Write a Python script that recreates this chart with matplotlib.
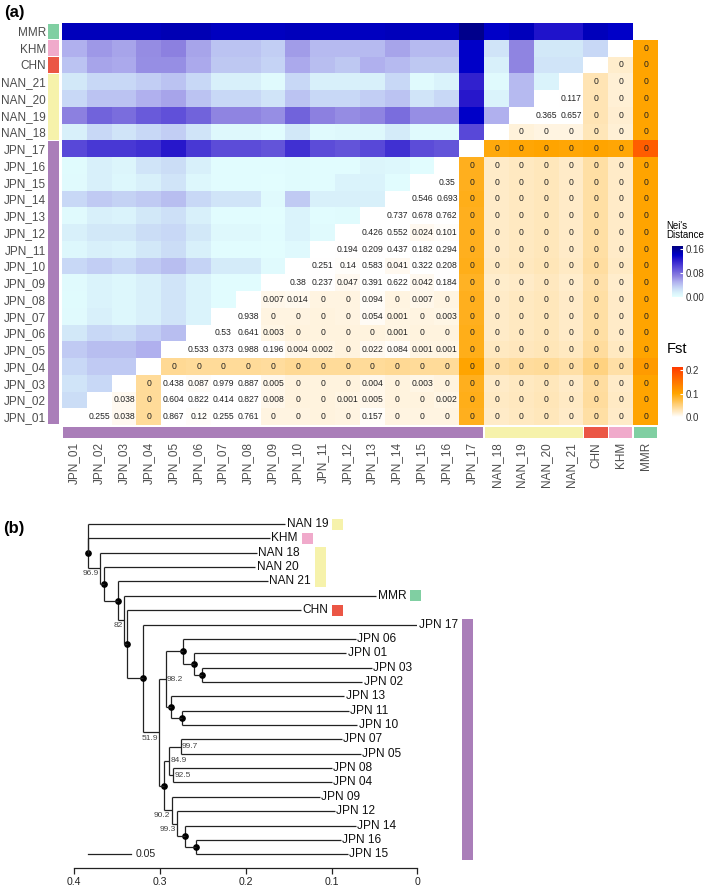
import numpy as np
import matplotlib
matplotlib.use("Agg")
import matplotlib.pyplot as plt
from matplotlib.colors import LinearSegmentedColormap, Normalize
from matplotlib.patches import Rectangle
from matplotlib.cm import ScalarMappable

plt.rcParams['font.family'] = ['Liberation Sans', 'DejaVu Sans']

# ---------------- data: panel (a) ----------------
pops = ['JPN_01', 'JPN_02', 'JPN_03', 'JPN_04', 'JPN_05', 'JPN_06', 'JPN_07', 'JPN_08',
        'JPN_09', 'JPN_10', 'JPN_11', 'JPN_12', 'JPN_13', 'JPN_14', 'JPN_15', 'JPN_16',
        'JPN_17', 'NAN_18', 'NAN_19', 'NAN_20', 'NAN_21', 'CHN', 'KHM', 'MMR']

group_names = ['JPN', 'NAN', 'CHN', 'KHM', 'MMR']
group_sizes = [17, 4, 1, 1, 1]
group_colors = ['#AA7EB9', '#F6F2AB', '#EB5645', '#F0AACB', '#80CFA2']

# Nei's distance, row k holds columns 0..k-1
nei_rows = [
    [],
    [0.027],
    [0.022, 0.030],
    [0.030, 0.037, 0.037],
    [0.037, 0.043, 0.043, 0.050],
    [0.020, 0.030, 0.027, 0.035, 0.043],
    [0.005, 0.015, 0.008, 0.015, 0.022, 0.012],
    [0.004, 0.012, 0.008, 0.015, 0.022, 0.012, 0.003],
    [0.005, 0.012, 0.008, 0.015, 0.022, 0.012, 0.003, 0.003],
    [0.030, 0.035, 0.030, 0.037, 0.043, 0.032, 0.018, 0.018, 0.005],
    [0.008, 0.015, 0.012, 0.020, 0.027, 0.015, 0.003, 0.003, 0.002, 0.006],
    [0.015, 0.020, 0.020, 0.027, 0.030, 0.020, 0.007, 0.007, 0.003, 0.012, 0.005],
    [0.005, 0.015, 0.012, 0.020, 0.025, 0.015, 0.003, 0.003, 0.002, 0.012, 0.003, 0.004],
    [0.030, 0.037, 0.033, 0.037, 0.043, 0.030, 0.022, 0.022, 0.005, 0.037, 0.015, 0.015, 0.015],
    [0.005, 0.015, 0.008, 0.015, 0.022, 0.008, 0.003, 0.003, 0.002, 0.004, 0.003, 0.012, 0.012, 0.003],
    [0.004, 0.015, 0.010, 0.022, 0.027, 0.015, 0.003, 0.003, 0.003, 0.004, 0.003, 0.003, 0.010, 0.008, 0.003],
    [0.100, 0.108, 0.108, 0.112, 0.125, 0.108, 0.097, 0.097, 0.093, 0.112, 0.097, 0.093, 0.100, 0.112,
     0.097, 0.093],
    [0.015, 0.030, 0.022, 0.030, 0.035, 0.022, 0.007, 0.007, 0.003, 0.020, 0.005, 0.007, 0.007, 0.018,
     0.005, 0.005, 0.100],
    [0.070, 0.085, 0.080, 0.090, 0.095, 0.085, 0.068, 0.068, 0.064, 0.085, 0.070, 0.065, 0.068, 0.080,
     0.064, 0.064, 0.140, 0.050],
    [0.030, 0.040, 0.040, 0.050, 0.055, 0.040, 0.030, 0.030, 0.022, 0.040, 0.030, 0.030, 0.035, 0.040,
     0.022, 0.030, 0.125, 0.012, 0.045],
    [0.020, 0.030, 0.030, 0.035, 0.040, 0.030, 0.015, 0.015, 0.005, 0.030, 0.015, 0.015, 0.015, 0.030,
     0.005, 0.012, 0.120, 0.005, 0.045, 0.012],
    [0.040, 0.055, 0.053, 0.064, 0.064, 0.053, 0.038, 0.038, 0.032, 0.053, 0.043, 0.038, 0.050, 0.045,
     0.038, 0.038, 0.140, 0.015, 0.068, 0.022, 0.022],
    [0.050, 0.060, 0.055, 0.065, 0.070, 0.055, 0.040, 0.040, 0.035, 0.058, 0.045, 0.045, 0.045, 0.055,
     0.045, 0.045, 0.140, 0.022, 0.068, 0.020, 0.020, 0.030],
    [0.145, 0.145, 0.145, 0.145, 0.148, 0.148, 0.143, 0.143, 0.143, 0.145, 0.143, 0.143, 0.143, 0.145,
     0.143, 0.143, 0.165, 0.140, 0.145, 0.128, 0.128, 0.145, 0.140],
]

# Fst p-values shown as text, row k holds columns k+1..23
p_rows = [
    "0.255 0.038 0 0.867 0.12 0.255 0.761 0 0 0 0 0.157 0 0 0 0 0 0 0 0 0 0 0".split(),
    "0.038 0 0.604 0.822 0.414 0.827 0.008 0 0 0.001 0.005 0 0 0.002 0 0 0 0 0 0 0 0".split(),
    "0 0.438 0.087 0.979 0.887 0.005 0 0 0 0.004 0 0.003 0 0 0 0 0 0 0 0 0".split(),
    "0 0 0 0 0 0 0 0 0 0 0 0 0 0 0 0 0 0 0 0".split(),
    "0.533 0.373 0.988 0.196 0.004 0.002 0 0.022 0.084 0.001 0.001 0 0 0 0 0 0 0 0".split(),
    "0.53 0.641 0.003 0 0 0 0 0.001 0 0 0 0 0 0 0 0 0 0".split(),
    "0.938 0 0 0 0 0.054 0.001 0 0.003 0 0 0 0 0 0 0 0".split(),
    "0.007 0.014 0 0 0.094 0 0.007 0 0 0 0 0 0 0 0 0".split(),
    "0.38 0.237 0.047 0.391 0.622 0.042 0.184 0 0 0 0 0 0 0 0".split(),
    "0.251 0.14 0.583 0.041 0.322 0.208 0 0 0 0 0 0 0 0".split(),
    "0.194 0.209 0.437 0.182 0.294 0 0 0 0 0 0 0 0".split(),
    "0.426 0.552 0.024 0.101 0 0 0 0 0 0 0 0".split(),
    "0.737 0.678 0.762 0 0 0 0 0 0 0 0".split(),
    "0.546 0.693 0 0 0 0 0 0 0 0".split(),
    "0.35 0 0 0 0 0 0 0 0".split(),
    "0 0 0 0 0 0 0 0".split(),
    "0 0 0 0 0 0 0".split(),
    "0 0 0 0 0 0".split(),
    "0.365 0.657 0 0 0".split(),
    "0.117 0 0 0".split(),
    "0 0 0".split(),
    "0 0".split(),
    "0".split(),
    [],
]

# Fst values (cell colour), same layout as p_rows
fst_rows = [
    [0.000, 0.006, 0.040, 0.000, 0.002, 0.000, 0.000, 0.012, 0.012, 0.013, 0.012, 0.002, 0.012, 0.012,
     0.012, 0.088, 0.022, 0.024, 0.027, 0.022, 0.036, 0.022, 0.100],
    [0.006, 0.040, 0.000, 0.000, 0.000, 0.000, 0.009, 0.013, 0.013, 0.011, 0.009, 0.013, 0.013, 0.010,
     0.090, 0.023, 0.025, 0.028, 0.023, 0.038, 0.023, 0.100],
    [0.040, 0.000, 0.003, 0.000, 0.000, 0.009, 0.013, 0.013, 0.013, 0.009, 0.013, 0.010, 0.013, 0.088,
     0.022, 0.024, 0.027, 0.022, 0.037, 0.022, 0.100],
    [0.042, 0.040, 0.040, 0.040, 0.038, 0.042, 0.040, 0.040, 0.040, 0.042, 0.040, 0.040, 0.100, 0.035,
     0.038, 0.040, 0.035, 0.050, 0.035, 0.110],
    [0.000, 0.000, 0.000, 0.001, 0.009, 0.010, 0.013, 0.006, 0.003, 0.011, 0.011, 0.090, 0.024, 0.026,
     0.028, 0.024, 0.038, 0.024, 0.100],
    [0.000, 0.000, 0.010, 0.013, 0.013, 0.013, 0.013, 0.011, 0.013, 0.013, 0.090, 0.022, 0.024, 0.027,
     0.022, 0.036, 0.022, 0.100],
    [0.000, 0.012, 0.012, 0.013, 0.012, 0.004, 0.011, 0.012, 0.010, 0.088, 0.022, 0.024, 0.027, 0.022,
     0.036, 0.022, 0.100],
    [0.009, 0.007, 0.012, 0.012, 0.003, 0.012, 0.009, 0.012, 0.088, 0.022, 0.024, 0.027, 0.022, 0.036,
     0.022, 0.100],
    [0.000, 0.001, 0.006, 0.000, 0.000, 0.006, 0.001, 0.086, 0.020, 0.022, 0.025, 0.020, 0.034, 0.020,
     0.100],
    [0.001, 0.002, 0.000, 0.006, 0.000, 0.001, 0.090, 0.023, 0.025, 0.028, 0.023, 0.037, 0.023, 0.100],
    [0.001, 0.001, 0.000, 0.001, 0.000, 0.088, 0.022, 0.024, 0.027, 0.022, 0.036, 0.022, 0.100],
    [0.000, 0.000, 0.006, 0.002, 0.088, 0.022, 0.024, 0.027, 0.022, 0.036, 0.022, 0.100],
    [0.000, 0.000, 0.000, 0.088, 0.022, 0.024, 0.027, 0.022, 0.036, 0.022, 0.100],
    [0.000, 0.000, 0.090, 0.022, 0.024, 0.027, 0.022, 0.036, 0.022, 0.100],
    [0.000, 0.088, 0.022, 0.024, 0.027, 0.022, 0.036, 0.022, 0.100],
    [0.088, 0.022, 0.024, 0.027, 0.022, 0.036, 0.022, 0.100],
    [0.095, 0.098, 0.100, 0.098, 0.100, 0.098, 0.175],
    [0.015, 0.012, 0.012, 0.028, 0.016, 0.100],
    [0.000, 0.000, 0.030, 0.018, 0.100],
    [0.001, 0.030, 0.016, 0.100],
    [0.030, 0.016, 0.100],
    [0.020, 0.100],
    [0.100],
    [],
]

# ---------------- data: panel (b) ----------------
tip_order = ['NAN 19', 'KHM', 'NAN 18', 'NAN 20', 'NAN 21', 'MMR', 'CHN', 'JPN 17', 'JPN 06',
             'JPN 01', 'JPN 03', 'JPN 02', 'JPN 13', 'JPN 11', 'JPN 10', 'JPN 07', 'JPN 05',
             'JPN 08', 'JPN 04', 'JPN 09', 'JPN 12', 'JPN 14', 'JPN 16', 'JPN 15']
tip_depth = [0.154, 0.172, 0.187, 0.189, 0.174, 0.048, 0.136, 0.000, 0.072,
             0.083, 0.053, 0.064, 0.085, 0.080, 0.070, 0.088, 0.066,
             0.100, 0.100, 0.114, 0.096, 0.072, 0.089, 0.081]

# internal nodes: name, depth, children, support label (None = dot), label side
tree_nodes = [
    ('S', 0.2581, ['JPN 16', 'JPN 15'], None, None),
    ('R2', 0.2709, ['JPN 14', 'S'], None, None),
    ('Q', 0.2799, ['JPN 12', 'R2'], '99.3', 'left'),
    ('P', 0.2864, ['JPN 09', 'Q'], '90.2', 'left'),
    ('O', 0.2852, ['JPN 08', 'JPN 04'], '92.5', 'right'),
    ('M', 0.2759, ['JPN 07', 'JPN 05'], '99.7', 'right'),
    ('N', 0.2896, ['M', 'O'], '84.9', 'right'),
    ('I', 0.2950, ['N', 'P'], None, None),
    ('L', 0.2748, ['JPN 11', 'JPN 10'], None, None),
    ('K', 0.2876, ['JPN 13', 'L'], None, None),
    ('J3', 0.2514, ['JPN 03', 'JPN 02'], None, None),
    ('J2', 0.2604, ['JPN 01', 'J3'], None, None),
    ('J1', 0.2736, ['JPN 06', 'J2'], None, None),
    ('H', 0.2934, ['J1', 'K'], '98.2', 'right'),
    ('G', 0.3009, ['H', 'I'], '51.9', 'left'),
    ('F', 0.3195, ['JPN 17', 'G'], None, None),
    ('E', 0.3389, ['CHN', 'F'], None, None),
    ('D', 0.3420, ['MMR', 'E'], '82', 'left'),
    ('C', 0.3487, ['NAN 21', 'D'], None, None),
    ('B', 0.3654, ['NAN 20', 'C'], None, None),
    ('A', 0.3700, ['NAN 18', 'B'], '96.9', 'left'),
    ('X', 0.3844, ['KHM', 'A'], None, None),
    ('root', 0.3844, ['NAN 19', 'X'], '', None),
]

tree_groups = [(['NAN 19'], '#F6F2AB'), (['KHM'], '#F0AACB'), (['NAN 18', 'NAN 20', 'NAN 21'], '#F6F2AB'),
               (['MMR'], '#80CFA2'), (['CHN'], '#EB5645'), (tip_order[7:], '#AA7EB9')]

# ---------------- figure ----------------
W, H = 709, 892
fig = plt.figure(figsize=(W / 100, H / 100), dpi=100)


def fx(px):
    return px / W


def fy(py):
    return 1 - py / H


n = len(pops)
nei = np.full((n, n), np.nan)
fst = np.full((n, n), np.nan)
for k in range(n):
    nei[k, :k] = nei_rows[k]
    fst[k, k + 1:] = fst_rows[k]

nei_max = 0.17
nei_stops = [0.0, 0.015, 0.03, 0.05, 0.07, 0.10, 0.125, 0.14, 0.17]
nei_cols = ['#E4FFFF', '#D8F0FA', '#C8D8F6', '#B0B0EE', '#8C80E0', '#5848D8', '#2818CC', '#0000C8', '#000080']
nei_cmap = LinearSegmentedColormap.from_list('nei', [(s / nei_max, c) for s, c in zip(nei_stops, nei_cols)])
nei_norm = Normalize(0, nei_max)

f_lo, f_hi = -0.012, 0.212
fst_stops = [-0.012, 0.0, 0.1, 0.212]
fst_cols = ['#FFFFFF', '#FFFFFF', '#FFA500', '#FF3A00']
fst_cmap = LinearSegmentedColormap.from_list('fst', [((s - f_lo) / (f_hi - f_lo), c) for s, c in zip(fst_stops, fst_cols)])
fst_norm = Normalize(f_lo, f_hi)

ax = fig.add_axes([fx(62), fy(425), fx(658) - fx(62), fy(23) - fy(425)])
ext = (-0.5, n - 0.5, -0.5, n - 0.5)
ax.imshow(nei, cmap=nei_cmap, norm=nei_norm, origin='lower', extent=ext, aspect='auto', interpolation='nearest')
ax.imshow(fst, cmap=fst_cmap, norm=fst_norm, origin='lower', extent=ext, aspect='auto', interpolation='nearest')
for k in range(n):
    for j, s in enumerate(p_rows[k]):
        ax.text(k + 1 + j, k, s, ha='center', va='center', fontsize=6.2, color='#222222')
ax.set_xlim(-0.5, n - 0.5)
ax.set_ylim(-0.5, n - 0.5)
ax.set_xticks(range(n))
ax.set_xticklabels(pops, rotation=90, fontsize=8.5, color='#4D4D4D')
ax.set_yticks(range(n))
ax.set_yticklabels(pops, fontsize=8.5, color='#4D4D4D')
ax.tick_params(axis='x', length=0, pad=12.2)
ax.tick_params(axis='y', length=0, pad=11.5)
for sp in ax.spines.values():
    sp.set_visible(False)

# group annotation bars
cw, rh = 596 / n, 402 / n
start = 0
for size, col in zip(group_sizes, group_colors):
    gx, gy = 0.7 / cw, 0.7 / rh
    ax.add_patch(Rectangle((start - 0.5 + gx, -0.5 - 13.3 / rh), size - 2 * gx, 11.6 / rh,
                           color=col, lw=0, clip_on=False))
    ax.add_patch(Rectangle((-0.5 - 14 / cw, start - 0.5 + gy), 11 / cw, size - 2 * gy,
                           color=col, lw=0, clip_on=False))
    start += size

# legends
fig.text(fx(666), fy(240), "Nei's\nDistance", fontsize=7, ha='left', va='bottom', linespacing=0.9)
cax1 = fig.add_axes([fx(672), fy(297), 11 / W, 51 / H])
cb1 = fig.colorbar(ScalarMappable(norm=nei_norm, cmap=nei_cmap), cax=cax1, ticks=[0, 0.08, 0.16])
cb1.ax.set_yticklabels(['0.00', '0.08', '0.16'])
cb1.outline.set_visible(False)
cb1.ax.tick_params(length=2.5, color='white', direction='in', labelsize=7, labelcolor='#333333', pad=2)

fig.text(fx(667), fy(349), "Fst", fontsize=10.5, ha='left', va='center')
cax2 = fig.add_axes([fx(672), fy(420), 11 / W, 53 / H])
cb2 = fig.colorbar(ScalarMappable(norm=fst_norm, cmap=fst_cmap), cax=cax2, ticks=[0, 0.1, 0.2])
cb2.ax.set_yticklabels(['0.0', '0.1', '0.2'])
cb2.outline.set_visible(False)
cb2.ax.tick_params(length=2.5, color='white', direction='in', labelsize=7, labelcolor='#333333', pad=2)

fig.text(fx(4), fy(12), '(a)', fontsize=12, fontweight='bold', va='center', ha='left')
fig.text(fx(3), fy(528), '(b)', fontsize=12, fontweight='bold', va='center', ha='left')

# ---------------- tree ----------------
tax = fig.add_axes([fx(74.3), fy(868), fx(417.3) - fx(74.3), fy(515) - fy(868)])
tax.set_xlim(0.4, 0.0)
tax.set_ylim(24.955, 0.373)

pos = {name: (d, i + 1) for i, (name, d) in enumerate(zip(tip_order, tip_depth))}
lc = '#222222'
for name, depth, kids, sup, side in tree_nodes:
    ys = [pos[c][1] for c in kids]
    y = (ys[0] + ys[-1]) / 2
    pos[name] = (depth, y)
    tax.plot([depth, depth], [min(ys), max(ys)], color=lc, lw=0.9, solid_capstyle='butt')
    for c in kids:
        tax.plot([depth, pos[c][0]], [pos[c][1], pos[c][1]], color=lc, lw=0.9, solid_capstyle='butt')
    if sup is None:
        tax.plot(depth, y, 'o', color='black', ms=3.8)
    elif side == 'left':
        tax.annotate(sup, (depth, y), xytext=(-1, -1.5), textcoords='offset points',
                     ha='right', va='top', fontsize=6, color='#444444')
    elif side == 'right':
        tax.annotate(sup, (depth, y), xytext=(1, 0), textcoords='offset points',
                     ha='left', va='center', fontsize=6, color='#444444')

tip_texts = {}
for name, d in zip(tip_order, tip_depth):
    tip_texts[name] = tax.annotate(name, (d, pos[name][1]), xytext=(1, 0), textcoords='offset points',
                                   ha='left', va='center', fontsize=8.6, color='#111111',
                                   annotation_clip=False)

# scale bar
root_depth = tree_nodes[-1][1]
scale_len = 0.05
tax.plot([root_depth, root_depth - scale_len], [24, 24], color=lc, lw=0.9)
tax.annotate('0.05', (root_depth - scale_len, 24), xytext=(4, 0), textcoords='offset points',
             ha='left', va='center', fontsize=7.6, color='#222222')

for sp in ['top', 'right', 'left']:
    tax.spines[sp].set_visible(False)
tax.spines['bottom'].set_bounds(0, 0.4)
tax.spines['bottom'].set_color(lc)
tax.spines['bottom'].set_linewidth(0.9)
tax.set_yticks([])
tax.set_xticks([0.4, 0.3, 0.2, 0.1, 0.0])
tax.set_xticklabels(['0.4', '0.3', '0.2', '0.1', '0'])
tax.tick_params(axis='x', length=4, width=0.9, color=lc, labelsize=7.6, labelcolor='#222222', pad=2.5)
tax.patch.set_visible(False)

# coloured boxes after tip labels
fig.canvas.draw()
rend = fig.canvas.get_renderer()
for names, col in tree_groups:
    right = max(tip_texts[t].get_window_extent(rend).x1 for t in names)
    y_top = tax.transData.transform((0, pos[names[0]][1]))[1] + 5.5
    y_bot = tax.transData.transform((0, pos[names[-1]][1]))[1] - 5.5
    fig.add_artist(Rectangle(((right + 4) / W, y_bot / H), 11 / W, (y_top - y_bot) / H,
                             transform=fig.transFigure, color=col, lw=0))

fig.savefig('out.png', dpi=100)
